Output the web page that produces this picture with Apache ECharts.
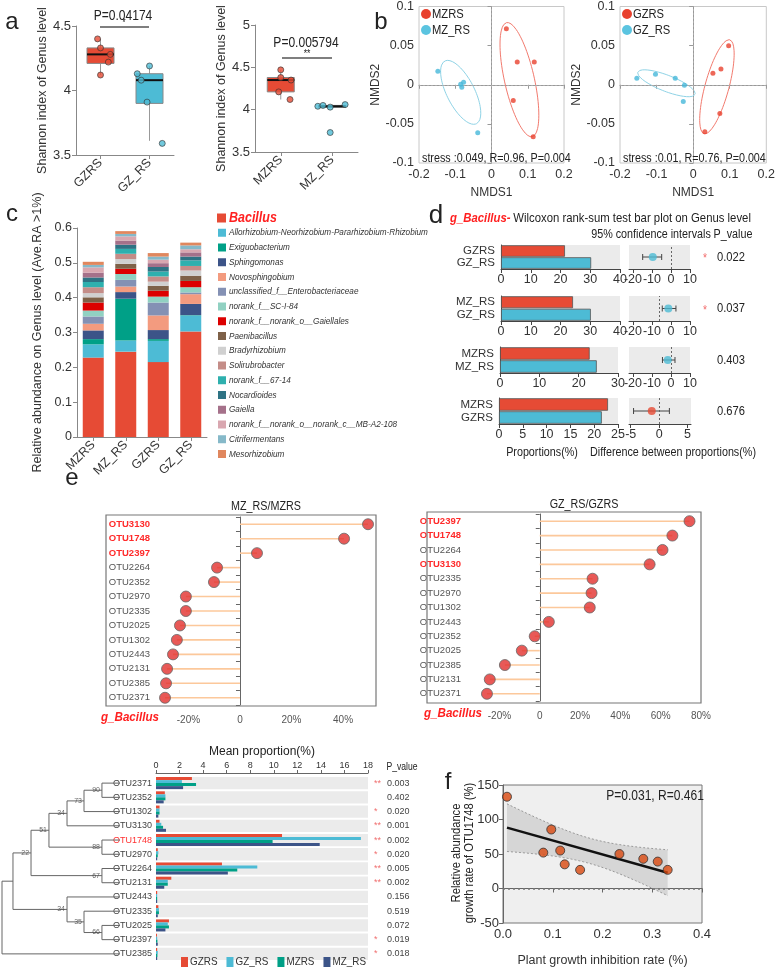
<!DOCTYPE html>
<html><head><meta charset="utf-8">
<script src="https://cdn.jsdelivr.net/npm/echarts@6/dist/echarts.min.js"></script>
<style>html,body{margin:0;padding:0;background:#fff}#c{width:778px;height:978px}</style>
</head><body><div id="c"></div>
<script>
// ================= DATA =================
// Panel a (Shannon boxplots)
const aLeftCats = ['GZRS','GZ_RS'];
const aLeftBox = [[4.12,4.21,4.28,4.33,4.40],[3.61,3.90,4.08,4.13,4.19]]; // min,q1,med,q3,max
const aLeftPts = [[4.40,4.33,4.28,4.22,4.12],[4.19,4.13,4.08,3.91,3.59]];
const aLeftJit = [[-0.06,0.0,0.2,0.16,0.0],[0.0,-0.25,-0.17,-0.05,0.26]];
const aLeftP = 'P=0.04174', aLeftSig = '*';
const aRightCats = ['MZRS','MZ_RS'];
const aRightBox = [[4.12,4.21,4.35,4.38,4.47],[4.03,4.035,4.04,4.05,4.06]];
const aRightPts = [[4.47,4.38,4.35,4.21,4.12],[4.04,4.05,4.03,4.06,3.73]];
const aRightJit = [[0.0,0.0,0.2,-0.04,0.18],[-0.28,-0.18,-0.04,0.25,-0.04]];
const aRightP = 'P=0.005794', aRightSig = '**';

// Panel b (NMDS)
const bLeftNames = ['MZRS','MZ_RS'];
const bLeftRed = [[0.041,0.0716],[0.071,0.029],[0.118,0.029],[0.060,-0.020],[0.115,-0.0664]];
const bLeftBlue = [[-0.148,0.0174],[-0.077,0.0032],[-0.082,-0.0032],[-0.085,0.0006],[-0.038,-0.0613]];
const bLeftEllRed = [0.077,0.0065,-0.0356,0.0729,0.040,0.0044];   // cx,cy, major semi-axis (x,y), minor semi-axis (x,y)
const bLeftEllBlue = [-0.085,-0.0097,0.0438,-0.040,0.034,0.0083];
const bLeftStress = 'stress :0.049, R=0.96, P=0.004';
const bRightNames = ['GZRS','GZ_RS'];
const bRightRed = [[0.097,0.0497],[0.054,0.0148],[0.076,0.020],[0.073,-0.0368],[0.032,-0.060]];
const bRightBlue = [[-0.154,0.0084],[-0.103,0.0135],[-0.049,0.0084],[-0.024,-0.0006],[-0.027,-0.0213]];
const bRightEllRed = [0.065,-0.0026,0.0351,0.060,0.0314,-0.0041];
const bRightEllBlue = [-0.073,0.0019,0.0784,-0.0142,-0.0076,-0.0097];
const bRightStress = 'stress :0.01, R=0.76, P=0.004';

// Panel c (stacked genus abundance)
const cSamples = ['MZRS','MZ_RS','GZRS','GZ_RS'];
const cGenera = ['Bacillus','Allorhizobium-Neorhizobium-Pararhizobium-Rhizobium','Exiguobacterium','Sphingomonas','Novosphingobium',
  'unclassified_f__Enterobacteriaceae','norank_f__SC-I-84','norank_f__norank_o__Gaiellales','Paenibacillus','Bradyrhizobium',
  'Solirubrobacter','norank_f__67-14','Nocardioides','Gaiella','norank_f__norank_o__norank_c__MB-A2-108','Citrifermentans','Mesorhizobium'];
const cValues = [
  [0.228,0.245,0.215,0.303],
  [0.038,0.032,0.061,0.046],
  [0.015,0.120,0.005,0.001],
  [0.025,0.019,0.026,0.032],
  [0.019,0.016,0.042,0.028],
  [0.021,0.019,0.037,0.005],
  [0.017,0.017,0.017,0.015],
  [0.023,0.015,0.017,0.018],
  [0.015,0.014,0.014,0.015],
  [0.012,0.014,0.012,0.015],
  [0.017,0.015,0.015,0.013],
  [0.015,0.014,0.014,0.016],
  [0.013,0.012,0.013,0.011],
  [0.014,0.012,0.011,0.012],
  [0.015,0.012,0.010,0.009],
  [0.007,0.007,0.009,0.011],
  [0.009,0.008,0.010,0.008]
];

// Panel d (Wilcoxon bar plot)
const dLabels = [['GZRS','GZ_RS'],['MZ_RS','GZ_RS'],['MZRS','MZ_RS'],['MZRS','GZRS']];
const dProp1 = [21.5,24.2,22.8,22.9];
const dProp2 = [30.3,30.2,24.6,21.6];
const dDiff = [-9.6,-1.4,-1.7,-1.3];
const dLo = [-14.9,-4.6,-4.5,-4.5];
const dHi = [-4.9,2.6,2.1,1.8];
const dRef = [0,-6.3,0,0];
const dPval = ['0.022','0.037','0.403','0.676'];
const dSig = ['*','*','',''];

// Panel e (lollipops)
const eLeftNames = ['OTU3130','OTU1748','OTU2397','OTU2264','OTU2352','OTU2970','OTU2335','OTU2025','OTU1302','OTU2443','OTU2131','OTU2385','OTU2371'];
const eLeftVals = [49.7,40.4,6.6,-8.9,-10.1,-21.0,-21.0,-23.3,-24.5,-26.0,-28.3,-28.7,-29.1];
const eLeftRed = ['OTU3130','OTU1748','OTU2397'];
const eRightNames = ['OTU2397','OTU1748','OTU2264','OTU3130','OTU2335','OTU2970','OTU1302','OTU2443','OTU2352','OTU2025','OTU2385','OTU2131','OTU2371'];
const eRightVals = [74.3,65.8,60.9,54.5,26.2,25.7,24.8,4.5,-2.5,-8.9,-17.3,-24.8,-26.2];
const eRightRed = ['OTU2397','OTU1748','OTU3130'];

// Mean proportion bar chart + tree
const mpGroups = ['GZRS','GZ_RS','MZRS','MZ_RS'];
const mpOTU = ['OTU2371','OTU2352','OTU1302','OTU3130','OTU1748','OTU2970','OTU2264','OTU2131','OTU2443','OTU2335','OTU2025','OTU2397','OTU2385'];
const mpGZRS  = [3.05,0.75,0.30,0.30,10.7,0.15,5.6,1.3,0.10,0.20,1.1,0.08,0.10];
const mpGZ_RS = [2.2,0.80,0.30,0.45,17.4,0.20,8.6,1.0,0.10,0.25,1.0,0.10,0.15];
const mpMZRS  = [3.4,0.80,0.30,0.60,9.9,0.15,6.9,1.0,0.10,0.25,1.1,0.12,0.12];
const mpMZ_RS = [2.3,0.65,0.20,0.85,13.9,0.10,6.1,0.7,0.10,0.15,0.8,0.15,0.10];
const mpP   = ['0.003','0.402','0.020','0.001','0.002','0.020','0.005','0.002','0.156','0.519','0.072','0.019','0.018'];
const mpSig = ['**','','*','**','**','*','**','**','','','','*','*'];
const mpRed = ['OTU1748'];
// merges: child A, child B, height (0 = leaves, 1 = root), bootstrap label
const treeMerges = [
  ['L0','L1',0.153,'90'],['M0','L2',0.305,'73'],['M1','L3',0.449,'34'],['L4','L5',0.153,'88'],
  ['M2','M3',0.602,'51'],['L6','L7',0.153,'67'],['M4','M5',0.754,'22'],['L10','L11',0.153,'66'],
  ['L9','M7',0.305,'35'],['L8','M8',0.449,'34'],['M6','M9',0.907,''],['M10','L12',1.0,'']
];

// Panel f (regression)
const fX = [0.008,0.097,0.081,0.115,0.124,0.155,0.234,0.282,0.311,0.331];
const fY = [133,85.5,52,55,35,27,50,43,39,27];
const fText = 'P=0.031, R=0.461';

// ================= BUILD =================
const F = "'Liberation Sans', Arial, Helvetica, sans-serif";
const RED = '#E64B35', BLUE = '#4DBBD5', GREEN = '#00A087', NAVY = '#3C5488';
const SX = 0.86;
const grids=[], xAxes=[], yAxes=[], series=[], graphics=[];
const mctx = document.createElement('canvas').getContext('2d');
function textW(t, fs){ mctx.font = fs+'px Liberation Sans, Arial, sans-serif'; return mctx.measureText(t).width*SX; }
function G(l,t,w,h,extra){ grids.push(Object.assign({left:l,top:t,width:w,height:h},extra||{})); return grids.length-1; }
function X(o){ xAxes.push(o); return xAxes.length-1; }
function Y(o){ yAxes.push(o); return yAxes.length-1; }
// text helper: narrowed along the text direction (reference uses a condensed sans)
function T(x,y,text,st,rot,sx){ const e={type:'text', x:x, y:y, z:50, scaleX:(sx===undefined?SX:sx),
  style:Object.assign({text:text, fontFamily:F, fontSize:12, fill:'#222', align:'center', textAlign:'center', verticalAlign:'middle', textVerticalAlign:'middle'}, st||{})};
  if(rot) e.rotation=rot; graphics.push(e); }
function L(x1,y1,x2,y2,st){ graphics.push({type:'line', z:50, shape:{x1,y1,x2,y2}, style:Object.assign({stroke:'#555',lineWidth:1.4},st||{})}); }
const axLine = c => ({show:true, lineStyle:{color:c||'#777', width:1}});
const axTick = (c,len) => ({show:true, length:len||4, lineStyle:{color:c||'#777'}});
const lbl = (fs,extra) => Object.assign({fontSize:fs, color:'#333', fontFamily:F}, extra||{});

// ---- Panel a ----
function boxPanel(left, top, w, h, cats, boxes, pts, jits, ymin, ymax, nameGap){
  const g = G(left, top, w, h);
  const fills = [RED, BLUE];
  const xi = X({type:'category', gridIndex:g, data:cats, axisLine:axLine('#888'), axisTick:Object.assign(axTick('#888'),{alignWithLabel:true}), axisLabel:lbl(12.5,{rotate:45, margin:6, interval:0})});
  const xv = X({type:'value', gridIndex:g, min:0, max:cats.length, show:false});
  const yi = Y({type:'value', gridIndex:g, min:ymin, max:ymax, interval:0.5, name:'Shannon index of Genus level', nameLocation:'middle', nameGap:nameGap,
    nameTextStyle:{fontSize:12.5, color:'#333', fontFamily:F}, axisLine:axLine('#888'), axisTick:axTick('#888'), splitLine:{show:false}, axisLabel:lbl(13,{margin:5})});
  series.push({type:'custom', xAxisIndex:xi, yAxisIndex:yi, encode:{x:0, y:[1,2,3,4,5]},
    data: boxes.map((b,i)=>[i].concat(b)),
    renderItem:function(params, api){
      const x = api.value(0);
      const c = k => api.coord([x, api.value(k)]);
      const pMin=c(1), pQ1=c(2), pMed=c(3), pQ3=c(4), pMax=c(5);
      const bw = 27, cx = pMed[0];
      return {type:'group', children:[
        {type:'line', shape:{x1:cx,y1:pMax[1],x2:cx,y2:pQ3[1]}, style:{stroke:'#999',lineWidth:1}},
        {type:'line', shape:{x1:cx,y1:pQ1[1],x2:cx,y2:pMin[1]}, style:{stroke:'#999',lineWidth:1}},
        {type:'rect', shape:{x:cx-bw/2,y:pQ3[1],width:bw,height:Math.max(pQ1[1]-pQ3[1],2)}, style:{fill:fills[params.dataIndex], stroke:'#888', lineWidth:1}},
        {type:'line', shape:{x1:cx-bw/2,y1:pMed[1],x2:cx+bw/2,y2:pMed[1]}, style:{stroke:'#111',lineWidth:2}}
      ]};
    }});
  pts.forEach((arr,i)=> series.push({type:'scatter', xAxisIndex:xv, yAxisIndex:yi, z:5, symbolSize:6,
    itemStyle:{color:fills[i], borderColor:'#333', borderWidth:0.8}, data: arr.map((v,k)=>[i+0.5+jits[i][k], v])}));
}
boxPanel(76, 26, 98, 129, aLeftCats, aLeftBox, aLeftPts, aLeftJit, 3.5, 4.5, 27);
boxPanel(255, 25, 103, 127, aRightCats, aRightBox, aRightPts, aRightJit, 3.5, 5, 23);
T(123,16,aLeftP,{fontSize:14});
L(100,27,149,27); T(124,23,aLeftSig,{fontSize:10});
T(306,43,aRightP,{fontSize:14});
L(282,58,332,58); T(307,54,aRightSig,{fontSize:10});

// ---- Panel b ----
function ellipse(p){ const out=[]; for(let k=0;k<=90;k++){ const t=2*Math.PI*k/90; out.push([p[0]+p[2]*Math.cos(t)+p[4]*Math.sin(t), p[1]+p[3]*Math.cos(t)+p[5]*Math.sin(t)]); } return out; }
function nmdsPanel(left, w, red, blue, ellR, ellB, names, stress){
  const g = G(left, 6, w, 157, {show:true, borderColor:'#c8c8c8', borderWidth:1});
  const xi = X({type:'value', gridIndex:g, min:-0.2, max:0.2, interval:0.1, name:'NMDS1', nameLocation:'middle', nameGap:24,
    nameTextStyle:{fontSize:12, color:'#333', fontFamily:F}, axisLine:axLine('#999'), axisTick:axTick('#999'), splitLine:{show:false},
    axisLabel:lbl(12.5,{margin:5, formatter:v=>String(+v.toFixed(2))})});
  const yi = Y({type:'value', gridIndex:g, min:-0.1, max:0.1, interval:0.05, name:'NMDS2', nameLocation:'middle', nameGap:34,
    nameTextStyle:{fontSize:12, color:'#333', fontFamily:F}, axisLine:axLine('#999'), axisTick:axTick('#999'), splitLine:{show:false},
    axisLabel:lbl(12.5,{margin:5, formatter:v=>String(+v.toFixed(2))})});
  series.push({type:'line', xAxisIndex:xi, yAxisIndex:yi, data:ellipse(ellR), showSymbol:false, smooth:false, lineStyle:{color:'#F27A6E', width:1}, silent:true,
    markLine:{silent:true, symbol:'none', label:{show:false}, lineStyle:{type:[2,2], color:'#aaa', width:1}, data:[{xAxis:0},{yAxis:0}]}});
  series.push({type:'line', xAxisIndex:xi, yAxisIndex:yi, data:ellipse(ellB), showSymbol:false, lineStyle:{color:'#8FD3E6', width:1}, silent:true});
  series.push({type:'scatter', name:'b-'+names[0], xAxisIndex:xi, yAxisIndex:yi, data:red, symbolSize:5, itemStyle:{color:'#E8412E'}, z:5});
  series.push({type:'scatter', name:'b-'+names[1], xAxisIndex:xi, yAxisIndex:yi, data:blue, symbolSize:5, itemStyle:{color:'#46B8DA'}, z:5});
  graphics.push({type:'circle', z:50, shape:{cx:left+7, cy:14, r:5}, style:{fill:'#E8412E'}});
  graphics.push({type:'circle', z:50, shape:{cx:left+7, cy:30, r:5}, style:{fill:'#5BC4E0'}});
  T(left+13,14,names[0],{align:'left',textAlign:'left',fontSize:13});
  T(left+13,30,names[1],{align:'left',textAlign:'left',fontSize:13});
  T(left+3,159,stress,{align:'left',textAlign:'left',fontSize:12.5});
}
nmdsPanel(419, 145, bLeftRed, bLeftBlue, bLeftEllRed, bLeftEllBlue, bLeftNames, bLeftStress);
nmdsPanel(620, 148, bRightRed, bRightBlue, bRightEllRed, bRightEllBlue, bRightNames, bRightStress);

// ---- Panel c ----
const cColors = ['#E64B35','#4DBBD5','#00A087','#3C5488','#F39B7F','#8491B4','#91D1C2','#DC0000','#7E6148','#D0D0D0',
  '#C48D88','#2EB0AE','#2E7384','#A5718A','#D9A7B0','#86B9C9','#E0875E'];
{
  const g = G(77, 228, 130, 209);
  const xi = X({type:'category', gridIndex:g, data:cSamples, axisLine:axLine('#888'), axisTick:Object.assign(axTick('#888'),{alignWithLabel:true}), axisLabel:lbl(12.5,{rotate:45, margin:6, interval:0})});
  const yi = Y({type:'value', gridIndex:g, min:0, max:0.6, interval:0.1, name:'Relative abundance on Genus level (Ave.RA >1%)', nameLocation:'middle', nameGap:33,
    nameTextStyle:{fontSize:12.5, color:'#333', fontFamily:F}, axisLine:axLine('#888'), axisTick:axTick('#888'), splitLine:{show:false},
    axisLabel:lbl(12.5,{margin:5, formatter:v=>String(+v.toFixed(1))})});
  cGenera.forEach((gname,i)=> series.push({type:'bar', name:gname, stack:'c', xAxisIndex:xi, yAxisIndex:yi, data:cValues[i], barWidth:21, itemStyle:{color:cColors[i]}}));
  // legend (built from the genus list)
  cGenera.forEach((gname,i)=>{
    const y = 218 + 14.75*i;
    const big = i===0;
    graphics.push({type:'rect', z:50, shape:{x:big?217:218, y:y-(big?4.5:4), width:big?9:8, height:big?9:8}, style:{fill:cColors[i]}});
    T(229, y, gname, big ? {align:'left',textAlign:'left',fill:'#FF2020',fontSize:14.5,fontStyle:'italic',fontWeight:'bold'}
                         : {align:'left',textAlign:'left',fill:'#333',fontSize:9.5,fontStyle:'italic'});
  });
}

// ---- Panel d ----
T(436,216,'d',{fontSize:26},0,1);
T(450,218,'{r|g_Bacillus-} {n|Wilcoxon rank-sum test bar plot on Genus level}',{align:'left',textAlign:'left',
  rich:{r:{fill:'#FF2020',fontSize:13.5,fontStyle:'italic',fontWeight:'bold',fontFamily:F}, n:{fill:'#222',fontSize:13.5,fontFamily:F}}},0,0.84);
T(651,235,'95% confidence intervals',{fontSize:12.5});
T(733,235,'P_value',{fontSize:12.5});
const dTop=[245,296,347,398], dH=[24,25,26,26], dBarLeft=[501,501,500,499], dBarW=[119,119,118,119], dMax=[40,40,30,25], dInt=[10,10,10,5];
const dCIRange=[[-22.1,10],[-22.1,10],[-22.1,10],[-5.3,5.6]], dCITicks=[[-20,-10,0,10],[-20,-10,0,10],[-20,-10,0,10],[-5,0,5]], dCIDot=[BLUE,BLUE,BLUE,RED];
for(let i=0;i<4;i++){
  const g = G(dBarLeft[i], dTop[i], dBarW[i], dH[i], {show:true, backgroundColor:'#EBEBEB', borderWidth:0});
  const xi = X({type:'value', gridIndex:g, min:0, max:dMax[i], interval:dInt[i], axisLine:axLine('#444'), axisTick:axTick('#444'), splitLine:{show:false}, axisLabel:lbl(12.5,{margin:4})});
  const yi = Y({type:'category', gridIndex:g, data:dLabels[i], inverse:true, axisLine:axLine('#444'), axisTick:{show:false}, axisLabel:lbl(11.5,{margin:6, interval:0})});
  series.push({type:'bar', name:'d'+i, xAxisIndex:xi, yAxisIndex:yi, barCategoryGap:'4%',
    data:[{value:dProp1[i], itemStyle:{color:RED}}, {value:dProp2[i], itemStyle:{color:BLUE}}], itemStyle:{borderColor:'#555', borderWidth:0.8}});
  const g2 = G(629, dTop[i], i===3?62:61, dH[i], {show:true, backgroundColor:'#EBEBEB', borderWidth:0});
  const xi2 = X({type:'value', gridIndex:g2, min:dCIRange[i][0], max:dCIRange[i][1], axisLine:axLine('#444'), splitLine:{show:false},
    axisTick:Object.assign(axTick('#444'),{customValues:dCITicks[i]}), axisLabel:lbl(12.5,{margin:4, customValues:dCITicks[i]})});
  const yi2 = Y({type:'value', gridIndex:g2, min:0, max:1, show:false});
  series.push({type:'custom', xAxisIndex:xi2, yAxisIndex:yi2, data:[[dLo[i], dHi[i], 0.5]], encode:{x:[0,1], y:2},
    renderItem:function(p, api){ const a=api.coord([api.value(0),api.value(2)]), b=api.coord([api.value(1),api.value(2)]);
      return {type:'group', children:[
        {type:'line', shape:{x1:a[0],y1:a[1],x2:b[0],y2:b[1]}, style:{stroke:'#444',lineWidth:1}},
        {type:'line', shape:{x1:a[0],y1:a[1]-3,x2:a[0],y2:a[1]+3}, style:{stroke:'#444',lineWidth:1}},
        {type:'line', shape:{x1:b[0],y1:b[1]-3,x2:b[0],y2:b[1]+3}, style:{stroke:'#444',lineWidth:1}}]}; },
    markLine:{silent:true, symbol:'none', label:{show:false}, lineStyle:{type:[2,2], color:'#666', width:1}, data:[{xAxis:dRef[i]}]}});
  series.push({type:'scatter', xAxisIndex:xi2, yAxisIndex:yi2, data:[[dDiff[i],0.5]], symbolSize:8, itemStyle:{color:dCIDot[i]}, z:6});
  const cy = dTop[i]+dH[i]/2;
  if(dSig[i]) T(705,cy+2,dSig[i],{fill:'#F26B6B',fontSize:12});
  T(731,cy,dPval[i],{fontSize:13});
}
T(542,453,'Proportions(%)',{fontSize:12.5});
T(673,453,'Difference between proportions(%)',{fontSize:12.5});

// ---- Panel e ----
function lolli(left, top, w, h, names, vals, reds, xmin, xmax, ticks){
  const g = G(left, top, w, h);
  const xi = X({type:'value', gridIndex:g, min:xmin, max:xmax, axisLine:{show:false}, axisTick:{show:false}, splitLine:{show:false},
    axisLabel:lbl(10,{color:'#555', margin:10, customValues:ticks, formatter:v=> v===0?'0':v+'%'})});
  const yi = Y({type:'category', gridIndex:g, data:names, inverse:true, axisLine:axLine('#666'), axisTick:Object.assign(axTick('#666',4),{interval:0}),
    axisLabel:{margin:6, interval:0, formatter:v=> reds.indexOf(v)>=0?('{r|'+v+'}'):('{n|'+v+'}'),
      rich:{r:{color:'#FF2A2A',fontSize:9.5,fontWeight:'bold',fontFamily:F}, n:{color:'#555',fontSize:9.5,fontFamily:F}}}});
  series.push({type:'bar', xAxisIndex:xi, yAxisIndex:yi, data:vals, barWidth:1.6, itemStyle:{color:'#FCC89B'}, silent:true});
  series.push({type:'scatter', xAxisIndex:xi, yAxisIndex:yi, data:vals.map((v,i)=>[v,i]), symbolSize:11, z:5,
    itemStyle:{color:'#E2302D', borderColor:'#666', borderWidth:1}});
}
lolli(156, 517, 220, 188, eLeftNames, eLeftVals, eLeftRed, -32.6, 52.8, [-20,0,20,40]);
lolli(467, 514, 234, 187, eRightNames, eRightVals, eRightRed, -36.1, 80, [-20,0,20,40,60,80]);
graphics.push({type:'rect', z:40, shape:{x:106,y:515,width:270,height:191}, style:{fill:'none',stroke:'#777',lineWidth:1.2}});
graphics.push({type:'rect', z:40, shape:{x:427,y:512,width:274,height:191}, style:{fill:'none',stroke:'#777',lineWidth:1.2}});
T(266,507,'MZ_RS/MZRS',{fontSize:12.5});
T(584,505,'GZ_RS/GZRS',{fontSize:12.5});
T(130,717,'g_Bacillus',{fill:'#FF2020',fontSize:13.5,fontStyle:'italic',fontWeight:'bold'});
T(453,713,'g_Bacillus',{fill:'#FF2020',fontSize:13.5,fontStyle:'italic',fontWeight:'bold'});
T(72,478,'e',{fontSize:24},0,1);

// ---- Mean proportion chart ----
const mpColors = [RED, BLUE, GREEN, NAVY];
{
  const g = G(156, 776, 212, 185);
  const xi = X({type:'value', gridIndex:g, position:'top', offset:3, min:0, max:18, interval:2, name:'Mean proportion(%)', nameLocation:'middle', nameGap:15,
    nameTextStyle:{fontSize:12, color:'#222', fontFamily:F}, axisLine:axLine('#666'), axisTick:axTick('#666',3), splitLine:{show:false}, axisLabel:lbl(9,{margin:3})});
  const yi = Y({type:'category', gridIndex:g, data:mpOTU, inverse:true, axisLine:{show:false}, axisTick:{show:false},
    axisLabel:{margin:4, interval:0, formatter:v=> mpRed.indexOf(v)>=0?('{r|'+v+'}'):('{n|'+v+'}'),
      rich:{r:{color:'#FF3030',fontSize:9,fontFamily:F}, n:{color:'#444',fontSize:9,fontFamily:F}}}});
  const yp = Y({type:'category', gridIndex:g, data:mpP.map((_,i)=>String(i)), inverse:true, position:'right', axisLine:{show:false}, axisTick:{show:false},
    axisLabel:{margin:6, interval:0, align:'left', formatter:(v,i)=> '{s|'+mpSig[i]+'}{v|'+mpP[i]+'}',
      rich:{s:{color:'#F07070',fontSize:9,width:13,fontFamily:F}, v:{color:'#444',fontSize:9,fontFamily:F}}}});
  series.push({type:'bar', xAxisIndex:xi, yAxisIndex:yp, data:mpOTU.map(()=>18), barWidth:12.3, itemStyle:{color:'#EBEBEB'}, z:1, silent:true});
  [mpGZRS, mpGZ_RS, mpMZRS, mpMZ_RS].forEach((vals,k)=>
    series.push({type:'bar', name:mpGroups[k], xAxisIndex:xi, yAxisIndex:yi, data:vals, barWidth:3, barGap:'0%', itemStyle:{color:mpColors[k]}, z:3}));
  T(402,767,'P_value',{fontSize:10});
  // legend built from group names
  let lx = 181;
  mpGroups.forEach((nm,k)=>{
    graphics.push({type:'rect', z:50, shape:{x:lx, y:957, width:7, height:10}, style:{fill:mpColors[k]}});
    T(lx+9, 962, nm, {align:'left', textAlign:'left', fontSize:11.5, fill:'#333'});
    lx += 9 + textW(nm, 11.5) + 9;
  });
  // dendrogram
  const gt = G(2, 776, 118, 185);
  const xt = X({type:'value', gridIndex:gt, min:0, max:1, inverse:true, show:false});
  const yt = Y({type:'value', gridIndex:gt, min:-0.5, max:12.5, inverse:true, show:false});
  const pos = {}; mpOTU.forEach((_,i)=> pos['L'+i] = {h:0, y:i});
  const segs = [], labs = [];
  treeMerges.forEach((m,k)=>{ const a=pos[m[0]], b=pos[m[1]], H=m[2];
    pos['M'+k] = {h:H, y:(a.y+b.y)/2};
    segs.push({coords:[[a.h,a.y],[H,a.y],[H,b.y],[b.h,b.y]]});
    if(m[3]) labs.push([H,(a.y+b.y)/2,m[3]]); });
  series.push({type:'lines', coordinateSystem:'cartesian2d', xAxisIndex:xt, yAxisIndex:yt, polyline:true, data:segs, lineStyle:{color:'#666', width:1, opacity:1}, silent:true});
  series.push({type:'scatter', xAxisIndex:xt, yAxisIndex:yt, data:labs, symbolSize:0, silent:true,
    label:{show:true, position:'left', distance:2, formatter:p=>p.value[2], fontSize:7, color:'#444', fontFamily:F}});
}

// ---- Panel f ----
{
  const n=fX.length; let mx=0,my=0; for(let i=0;i<n;i++){mx+=fX[i];my+=fY[i];} mx/=n; my/=n;
  let sxx=0,sxy=0; for(let i=0;i<n;i++){sxx+=(fX[i]-mx)**2; sxy+=(fX[i]-mx)*(fY[i]-my);}
  const b=sxy/sxx, a=my-b*mx; let sse=0; for(let i=0;i<n;i++) sse+=(fY[i]-a-b*fX[i])**2;
  const s=Math.sqrt(sse/(n-2)), tq=2.306;   // t(0.975, n-2)
  const x0=Math.min(...fX), x1=Math.max(...fX); const lo=[], up=[];
  for(let k=0;k<=40;k++){ const x=x0+(x1-x0)*k/40, yhat=a+b*x, half=tq*s*Math.sqrt(1/n+(x-mx)**2/sxx); lo.push([x,yhat-half]); up.push([x,yhat+half]); }
  const g = G(503, 785, 199, 138, {show:true, backgroundColor:'#EFEFEF', borderColor:'#777', borderWidth:1});
  const xi = X({type:'value', gridIndex:g, min:0, max:0.4, interval:0.1, name:'Plant growth inhibition rate (%)', nameLocation:'middle', nameGap:31,
    nameTextStyle:{fontSize:12.5, color:'#333', fontFamily:F}, axisLine:axLine('#666'), axisTick:axTick('#666'), splitLine:{show:false}, axisLabel:lbl(13,{margin:5, formatter:v=>v.toFixed(1)})});
  const yi = Y({type:'value', gridIndex:g, min:-50, max:150, interval:50, axisLine:axLine('#666'), axisTick:axTick('#666'), splitLine:{show:false}, axisLabel:lbl(13,{margin:4})});
  series.push({type:'custom', xAxisIndex:xi, yAxisIndex:yi, data:[[x0, a+b*x0]], silent:true, z:2,
    renderItem:function(p, api){
      const U = up.map(q=>api.coord(q)), D = lo.map(q=>api.coord(q));
      return {type:'group', children:[
        {type:'polygon', shape:{points:U.concat(D.slice().reverse())}, style:{fill:'rgba(185,185,185,0.45)'}},
        {type:'polyline', shape:{points:U}, style:{stroke:'#999', lineWidth:1, lineDash:[2,2], fill:null}},
        {type:'polyline', shape:{points:D}, style:{stroke:'#999', lineWidth:1, lineDash:[2,2], fill:null}}]};
    }});
  series.push({type:'line', xAxisIndex:xi, yAxisIndex:yi, data:[[x0,a+b*x0],[x1,a+b*x1]], showSymbol:false, lineStyle:{color:'#111', width:2.5}, silent:true, z:4,
    markLine:{silent:true, symbol:'none', label:{show:false}, lineStyle:{type:[2,3], color:'#777', width:1.5}, data:[{yAxis:0}]}});
  series.push({type:'scatter', xAxisIndex:xi, yAxisIndex:yi, data:fX.map((x,i)=>[x,fY[i]]), symbolSize:9, itemStyle:{color:'#D9480F', borderColor:'#333', borderWidth:1}, z:6});
  T(655,796,fText,{fontSize:14});
  T(463,853,'Relative abundance\ngrowth rate of OTU1748 (%)',{fontSize:13, lineHeight:13}, Math.PI/2);
}

// Panel letters
T(12,22,'a',{fontSize:24},0,1); T(381,22,'b',{fontSize:24},0,1); T(12,214,'c',{fontSize:24},0,1); T(448,782,'f',{fontSize:24},0,1);

const chart = echarts.init(document.getElementById('c'), null, {renderer:'canvas'});
chart.setOption({
  animation:false, backgroundColor:'#fff', textStyle:{fontFamily:F},
  grid:grids, xAxis:xAxes, yAxis:yAxes, series:series, graphic:{elements:graphics}
});
</script></body></html>
